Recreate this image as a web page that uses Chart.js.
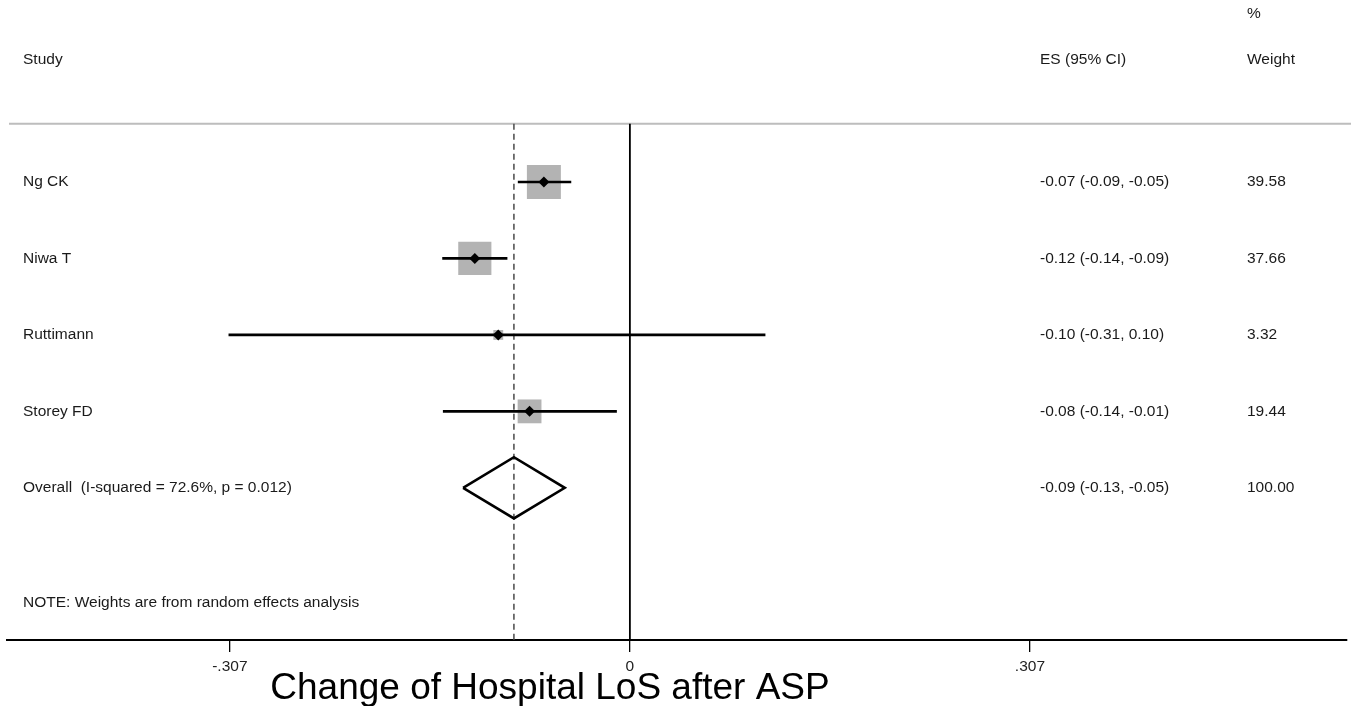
<!DOCTYPE html>
<html>
<head>
<meta charset="utf-8">
<script src="https://cdn.jsdelivr.net/npm/chart.js@4.4.0/dist/chart.umd.min.js"></script>
<style>
  html, body { margin: 0; padding: 0; background: #fff; }
  #forest { display: block; }
</style>
</head>
<body>
<canvas id="forest" width="1351" height="706"></canvas>
<script>
// study rows
const studies = ['Ng CK', 'Niwa T', 'Ruttimann', 'Storey FD'];
const es = [-0.066, -0.119, -0.101, -0.077];
const ciLow = [-0.086, -0.144, -0.308, -0.1435];
const ciHigh = [-0.045, -0.094, 0.104, -0.010];
const weights = [39.58, 37.66, 3.32, 19.44];
const esLabels = ['-0.07 (-0.09, -0.05)', '-0.12 (-0.14, -0.09)', '-0.10 (-0.31, 0.10)', '-0.08 (-0.14, -0.01)'];
const weightLabels = ['39.58', '37.66', '3.32', '19.44'];

// pooled estimate
const overallLabel = 'Overall  (I-squared = 72.6%, p = 0.012)';
const overallEs = -0.089;
const overallLow = -0.128;
const overallHigh = -0.050;
const overallEsLabel = '-0.09 (-0.13, -0.05)';
const overallWeightLabel = '100.00';

// axis
const tickValues = [-0.307, 0, 0.307];
const tickLabels = ['-.307', '0', '.307'];
const axisTitle = 'Change of Hospital LoS after ASP';
const noteText = 'NOTE: Weights are from random effects analysis';

const FONT = '"Liberation Sans", Arial, Helvetica, sans-serif';
const rows = studies.map((s, i) => i + 1);
const overallRow = studies.length + 1;
const noteRow = overallRow + 1.5;
const topRow = 0.24;      // grey header rule
const yMin = -1.38, yMax = 6.99;

const datasets = [];
// effect markers (on top)
datasets.push({
  data: es.map((v, i) => ({ x: v, y: rows[i] })),
  pointStyle: 'rectRot', pointRadius: 5.5, backgroundColor: '#000', borderWidth: 0, order: 0
});
// confidence intervals
studies.forEach((s, i) => {
  datasets.push({
    data: [{ x: ciLow[i], y: rows[i] }, { x: ciHigh[i], y: rows[i] }],
    showLine: true, borderColor: '#000', borderWidth: 2.7, pointRadius: 0, order: 1
  });
});
// weight boxes
datasets.push({
  data: es.map((v, i) => ({ x: v, y: rows[i] })),
  pointStyle: 'rect', pointRadius: weights.map(w => 3.82 * Math.sqrt(w)),
  backgroundColor: '#b3b3b3', borderWidth: 0, order: 3
});
// overall diamond
datasets.push({
  data: [
    { x: overallLow, y: overallRow }, { x: overallEs, y: overallRow - 0.4 },
    { x: overallHigh, y: overallRow }, { x: overallEs, y: overallRow + 0.4 },
    { x: overallLow, y: overallRow }
  ],
  showLine: true, borderColor: '#000', borderWidth: 2.6, pointRadius: 0, order: 1
});
// no-effect line
datasets.push({
  data: [{ x: 0, y: topRow }, { x: 0, y: yMax }],
  showLine: true, borderColor: '#000', borderWidth: 1.8, pointRadius: 0, order: 2
});
// overall effect dashed line
datasets.push({
  data: [{ x: overallEs, y: topRow }, { x: overallEs, y: yMax }],
  showLine: true, borderColor: '#555', borderWidth: 1.6, borderDash: [6, 4], pointRadius: 0, order: 2
});

const textPlugin = {
  id: 'forestText',
  beforeDatasetsDraw(chart) {
    const ctx = chart.ctx;
    const y = chart.scales.y.getPixelForValue(topRow);
    ctx.save();
    ctx.strokeStyle = '#bdbdbd';
    ctx.lineWidth = 2;
    ctx.beginPath();
    ctx.moveTo(9, y);
    ctx.lineTo(chart.width, y);
    ctx.stroke();
    ctx.restore();
  },
  afterDraw(chart) {
    const ctx = chart.ctx;
    const ys = chart.scales.y;
    const colStudy = 23, colEs = 1040, colW = 1247;
    ctx.save();
    ctx.fillStyle = '#1a1a1a';
    ctx.font = '15.5px ' + FONT;
    ctx.textBaseline = 'middle';
    ctx.textAlign = 'left';
    ctx.fillText('%', colW, ys.getPixelForValue(-1.2));
    ctx.fillText('Study', colStudy, ys.getPixelForValue(-0.6));
    ctx.fillText('ES (95% CI)', colEs, ys.getPixelForValue(-0.6));
    ctx.fillText('Weight', colW, ys.getPixelForValue(-0.6));
    studies.forEach((s, i) => {
      const py = ys.getPixelForValue(rows[i]);
      ctx.fillText(s, colStudy, py);
      ctx.fillText(esLabels[i], colEs, py);
      ctx.fillText(weightLabels[i], colW, py);
    });
    const po = ys.getPixelForValue(overallRow);
    ctx.fillText(overallLabel, colStudy, po);
    ctx.fillText(overallEsLabel, colEs, po);
    ctx.fillText(overallWeightLabel, colW, po);
    ctx.fillText(noteText, colStudy, ys.getPixelForValue(noteRow));

    ctx.fillStyle = '#000';
    ctx.font = '37px ' + FONT;
    ctx.textAlign = 'center';
    ctx.fillText(axisTitle, 550, 689);
    ctx.restore();
  }
};

new Chart(document.getElementById('forest'), {
  type: 'scatter',
  data: { datasets: datasets },
  options: {
    responsive: false,
    animation: false,
    events: [],
    layout: { autoPadding: false, padding: { left: 7, right: 4, top: 0, bottom: 0 } },
    plugins: { legend: { display: false }, tooltip: { enabled: false } },
    scales: {
      x: {
        type: 'linear',
        min: -0.478,
        max: 0.5503,
        afterBuildTicks: s => { s.ticks = tickValues.map(v => ({ value: v })); },
        afterFit: s => { s.height = 66; },
        ticks: {
          callback: (v) => tickLabels[tickValues.indexOf(v)],
          font: { size: 15.5, family: FONT },
          color: '#222',
          padding: 5,
          maxRotation: 0,
          autoSkip: false
        },
        grid: { drawOnChartArea: false, drawTicks: true, tickLength: 12, color: '#000', lineWidth: 1.3 },
        border: { display: true, color: '#000', width: 2 }
      },
      y: { type: 'linear', reverse: true, min: yMin, max: yMax, display: false }
    }
  },
  plugins: [textPlugin]
});
</script>
</body>
</html>
